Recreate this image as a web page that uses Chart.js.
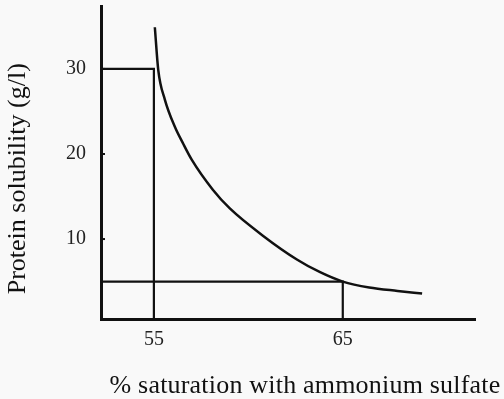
<!DOCTYPE html>
<html>
<head>
<meta charset="utf-8">
<script src="https://cdn.jsdelivr.net/npm/chart.js@4"></script>
<style>
  html, body { margin: 0; padding: 0; background: #f9f9f9; }
  #wrap { width: 504px; height: 399px; }
</style>
</head>
<body>
<div id="wrap"><canvas id="chart"></canvas></div>
<script>
  // solubility curve
  const saturation = [55.05, 55.23, 55.58, 56.11, 56.53, 57.01, 58.12, 59.02, 60.77, 62.57, 63.8, 65, 66.4, 67.9, 69.2];
  const solubility = [34.9, 29.9, 26.4, 23.2, 21.3, 19.3, 15.8, 13.6, 10.4, 7.6, 6.1, 5.0, 4.3, 3.9, 3.6];

  // the two cut points marked with guide lines
  const markSat = [55, 65];
  const markSol = [30, 5];

  const xTicks = [55, 65];
  const yTicks = [10, 20, 30];

  const xTitle = '% saturation with ammonium sulfate';
  const yTitle = 'Protein solubility (g/l)';

  const X_MIN = 52.2, X_MAX = 72.0;
  const Y_MIN = 0.6, Y_MAX = 37.4;

  const serif = '"Liberation Serif", "Times New Roman", serif';
  const ink = '#111';
  const nb = '\u00a0';

  const curve = saturation.map((x, i) => ({ x, y: solubility[i] }));
  const guides = markSat.map((x, i) => [
    { x: X_MIN, y: markSol[i] },
    { x, y: markSol[i] },
    { x, y: Y_MIN }
  ]);

  // inward y ticks, plus the x title (it runs wider than the chart
  // area, which the built-in title would squeeze)
  const extras = {
    id: 'extras',
    afterDraw(chart) {
      const ctx = chart.ctx, y = chart.scales.y, left = chart.chartArea.left;
      ctx.save();
      ctx.strokeStyle = ink;
      ctx.lineWidth = 2;
      yTicks.forEach(v => {
        const py = y.getPixelForValue(v);
        ctx.beginPath();
        ctx.moveTo(left, py);
        ctx.lineTo(left + 4, py);
        ctx.stroke();
      });
      ctx.fillStyle = ink;
      ctx.font = '26px ' + serif;
      ctx.letterSpacing = '0.2px';
      ctx.textAlign = 'center';
      ctx.textBaseline = 'alphabetic';
      ctx.fillText(xTitle, 305, 393);
      ctx.restore();
    }
  };

  new Chart(document.getElementById('chart'), {
    type: 'line',
    data: {
      datasets: [
        {
          data: curve,
          borderColor: ink,
          borderWidth: 2.5,
          pointRadius: 0,
          cubicInterpolationMode: 'monotone',
          fill: false
        },
        ...guides.map(g => ({
          data: g,
          borderColor: ink,
          borderWidth: 2.2,
          pointRadius: 0,
          tension: 0,
          fill: false
        }))
      ]
    },
    options: {
      responsive: true,
      maintainAspectRatio: false,
      animation: false,
      events: [],
      layout: { padding: { top: 6, right: 29, left: 0, bottom: 0 } },
      plugins: { legend: { display: false }, tooltip: { enabled: false } },
      scales: {
        x: {
          type: 'linear',
          min: X_MIN,
          max: X_MAX,
          afterBuildTicks: s => { s.ticks = xTicks.map(v => ({ value: v })); },
          afterFit: s => { s.height = 80; },
          grid: { display: false },
          border: { display: true, color: ink, width: 3 },
          ticks: { color: '#222', padding: 1, font: { family: serif, size: 20 } },
          title: { display: false }
        },
        y: {
          min: Y_MIN,
          max: Y_MAX,
          afterBuildTicks: s => { s.ticks = yTicks.map(v => ({ value: v })); },
          afterFit: s => { s.width = 101; s.paddingTop = 0; s.paddingBottom = 0; },
          grid: { display: false },
          border: { display: true, color: ink, width: 3 },
          ticks: { color: '#222', padding: 7, font: { family: serif, size: 20 } },
          title: {
            display: true,
            text: yTitle + nb.repeat(5),
            color: ink,
            padding: { top: 2.5, bottom: 0 },
            font: { family: serif, size: 26 }
          }
        }
      }
    },
    plugins: [extras]
  });
</script>
</body>
</html>
